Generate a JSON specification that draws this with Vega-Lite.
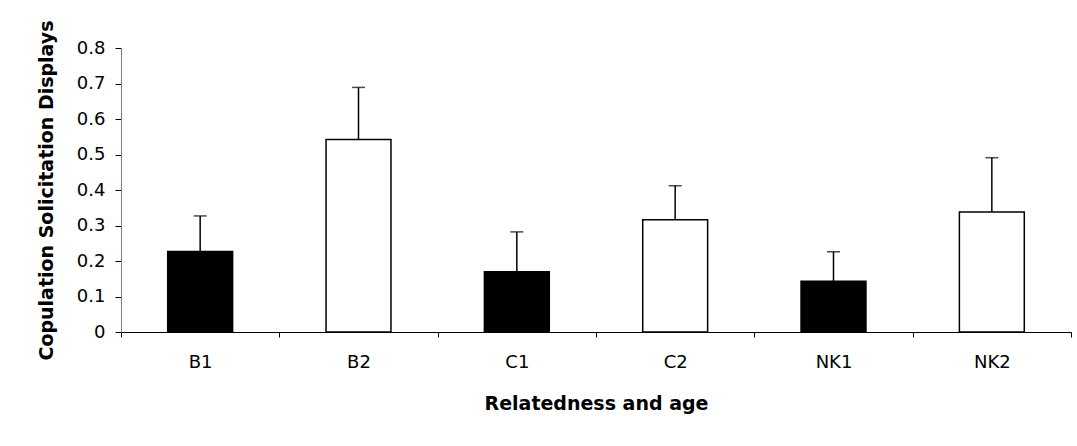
{
  "$schema": "https://vega.github.io/schema/vega-lite/v6.json",
  "autosize": {"type": "none"},
  "width": 950,
  "height": 284,
  "padding": {"left": 121, "top": 48, "right": 6, "bottom": 114},
  "background": "white",
  "config": {
    "view": {"stroke": null},
    "font": "DejaVu Sans",
    "axis": {"labelColor": "black", "titleColor": "black", "grid": false, "labelFontSize": 18, "titleFontSize": 19, "labelOverlap": false},
    "axisY": {
      "values": [0, 0.1, 0.2, 0.3, 0.4, 0.5, 0.6, 0.7, 0.8],
      "format": "~g",
      "tickSize": 6,
      "tickColor": "black",
      "domainColor": "#808080",
      "labelPadding": 10,
      "titleFontWeight": "bold",
      "titlePadding": 20
    }
  },
  "data": {
    "values": [
      {"group": "B1", "age": "1", "mean": 0.227, "err": 0.100},
      {"group": "B2", "age": "2", "mean": 0.542, "err": 0.147},
      {"group": "C1", "age": "1", "mean": 0.170, "err": 0.112},
      {"group": "C2", "age": "2", "mean": 0.316, "err": 0.096},
      {"group": "NK1", "age": "1", "mean": 0.143, "err": 0.083},
      {"group": "NK2", "age": "2", "mean": 0.338, "err": 0.153}
    ]
  },
  "transform": [{"calculate": "datum.mean + datum.err", "as": "upper"}],
  "encoding": {
    "x": {
      "field": "group",
      "type": "nominal",
      "sort": null,
      "scale": {"paddingInner": 0, "paddingOuter": 0},
      "axis": {
        "title": "Relatedness and age",
        "labelAngle": 0,
        "tickBand": "extent",
        "tickSize": 5,
        "tickColor": "black",
        "domainColor": "black",
        "labelPadding": 16,
        "titleFontWeight": "bold",
        "titlePadding": 23
      }
    },
    "y": {
      "field": "mean",
      "type": "quantitative",
      "scale": {"domain": [0, 0.8], "nice": false, "zero": true},
      "axis": {"title": "Copulation Solicitation Displays"}
    }
  },
  "layer": [
    {
      "mark": {"type": "bar", "width": {"band": 0.41}, "stroke": "black", "strokeWidth": 1.5},
      "encoding": {
        "fill": {
          "field": "age",
          "type": "nominal",
          "scale": {"domain": ["1", "2"], "range": ["black", "white"]},
          "legend": null
        }
      }
    },
    {
      "mark": {"type": "rule", "color": "black", "strokeWidth": 1.5},
      "encoding": {
        "y2": {"field": "upper"}
      }
    },
    {
      "mark": {"type": "tick", "color": "black", "thickness": 1.5, "size": 13},
      "encoding": {
        "y": {"field": "upper", "type": "quantitative", "axis": {"title": "Copulation Solicitation Displays"}}
      }
    }
  ]
}
